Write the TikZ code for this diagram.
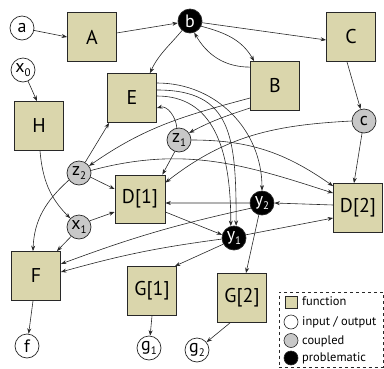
\documentclass[tikz,border=0pt]{standalone}
\usepackage{fontspec}
\setmainfont{PT Sans}
\usetikzlibrary{arrows.meta}
\definecolor{fnfill}{RGB}{218,214,172}
\definecolor{cpfill}{RGB}{200,200,200}
\definecolor{ln}{RGB}{40,40,40}
\newcommand\lsub[1]{\raisebox{-0.4ex}{\fontsize{11}{11}\selectfont #1}}
\begin{document}
\begin{tikzpicture}[x=1bp,y=1bp,
  fn/.style={draw=ln, line width=0.8bp, fill=fnfill, minimum size=49bp, inner sep=0pt, font=\fontsize{20}{20}\selectfont},
  var/.style={circle, draw=ln, line width=0.7bp, minimum size=24bp, inner sep=0pt, font=\fontsize{18}{18}\selectfont},
  io/.style={var, fill=white},
  cp/.style={var, fill=cpfill},
  pr/.style={var, fill=black, text=white},
  conn/.style={draw=ln, line width=0.6bp, -{Stealth[length=5.5bp,width=4bp]}},
  legtxt/.style={anchor=base west, inner sep=0pt, font=\fontsize{12.5}{12.5}\selectfont},
]
\useasboundingbox (0,0) rectangle (384,-369);
% nodes
\node[io] (a) at (22,-28) {a};
\node[fn] (A) at (92,-37) {A};
\node[pr] (b) at (190,-21) {b};
\node[fn] (C) at (351,-37) {C};
\node[io] (x0) at (23,-70) {x\lsub{0}};
\node[fn] (H) at (39,-126) {H};
\node[fn] (E) at (132,-98) {E};
\node[fn] (B) at (275,-86) {B};
\node[cp] (c) at (364,-121) {c};
\node[cp] (z1) at (179,-140) {z\lsub{1}};
\node[cp] (z2) at (79,-173) {z\lsub{2}};
\node[fn, minimum height=48bp, minimum width=50bp] (D1) at (140,-199) {D[1]};
\node[pr] (y2) at (262,-203) {y\lsub{2}};
\node[fn] (D2) at (358,-208) {D[2]};
\node[pr] (y1) at (234,-238) {y\lsub{1}};
\node[cp] (x1) at (79,-227) {x\lsub{1}};
\node[fn] (F) at (36,-276) {F};
\node[fn] (G1) at (152,-291) {G[1]};
\node[fn] (G2) at (242,-298) {G[2]};
\node[io] (f) at (27,-346) {f};
\node[io] (g1) at (149,-348) {g\lsub{1}};
\node[io] (g2) at (197,-350) {g\lsub{2}};
% connectors
\draw[conn] (a) -- (A.west);
\draw[conn] (A) -- (b);
\draw[conn] (b) -- ([yshift=-3bp]C.west);
\draw[conn] (b.230) to[out=230,in=65] ([xshift=-7bp]E.north east);
\draw[conn] (b.-25) to[out=-15,in=120] ([xshift=4bp]B.north west);
\draw[conn] ([yshift=-6bp]B.north west) to[out=180,in=-60] (b.-70);
\draw[conn] (x0) -- ([xshift=-2bp]H.north);
\draw[conn] ([xshift=-4bp]C.south) -- (c);
\draw[conn] (c) -- ([xshift=-4bp]D2.north);
\draw[conn] (c.180) to[out=183,in=38] ([yshift=-8bp]D1.north east);
\draw[conn] ([yshift=-12bp]B.west) to[out=195,in=35] (z2.35);
\draw[conn] ([yshift=-22bp]B.west) to[out=198,in=28] (z1.35);
\draw[conn] (z1.100) to[out=95,in=15] ([yshift=-10bp]E.east);
\draw[conn] (z1.250) -- ([xshift=-3bp]D1.north east);
\draw[conn] (z1.0) to[out=0,in=145] ([yshift=-3bp]D2.north west);
\draw[conn] (z2.60) -- ([xshift=2bp]E.south west);
\draw[conn] (z2.-20) -- ([yshift=10bp]D1.west);
\draw[conn] (z2.12) to[out=15,in=162] ([yshift=-10bp]D2.north west);
\draw[conn] (z2.215) to[out=222,in=88] ([xshift=-3bp]F.north);
\draw[conn] ([xshift=1bp]H.south) to[out=-85,in=135] (x1.135);
\draw[conn] (x1.30) -- ([yshift=-13bp]D1.west);
\draw[conn] (x1.230) -- ([xshift=-4bp]F.north east);
\draw[conn] ([yshift=15bp]E.east) .. controls +(60,0) and +(0,60) .. (y2.north);
\draw[conn] ([yshift=8bp]E.east) .. controls +(75,0) and +(0,90) .. (y1.80);
\draw[conn] ([yshift=2bp]E.east) .. controls +(55,0) and +(0,80) .. (y1.105);
\draw[conn] (y2.west) -- ([yshift=-4bp]D1.east);
\draw[conn] ([yshift=-13bp]D1.east) -- (y1.165);
\draw[conn] ([yshift=3bp]D2.west) -- (y2.east);
\draw[conn] (y1.15) -- ([yshift=-10bp]D2.west);
\draw[conn] (y2.255) -- ([xshift=4bp]G2.north);
\draw[conn] (y1.210) -- ([xshift=-2bp]G1.north east);
\draw[conn] (y2.205) to[bend right=4] ([yshift=12bp]F.east);
\draw[conn] (y1.185) to[bend right=4] ([yshift=4bp]F.east);
\draw[conn] ([xshift=-3bp]F.south) -- (f);
\draw[conn] (G1.south) -- (g1);
\draw[conn] ([xshift=-12bp]G2.south) -- (g2);
% legend
\node[draw=ln, dashed, line width=0.7bp, minimum width=104bp, minimum height=75bp, inner sep=0pt] (leg) at (331,-329.5) {};
\node[draw=ln, fill=fnfill, minimum size=12bp, inner sep=0pt, line width=0.6bp] (lf) at (291,-302) {};
\node[circle, draw=ln, fill=white, minimum size=14bp, inner sep=0pt, line width=0.6bp] (lio) at (291,-322) {};
\node[circle, draw=ln, fill=cpfill, minimum size=14bp, inner sep=0pt, line width=0.6bp] (lcp) at (291,-340.5) {};
\node[circle, draw=ln, fill=black, minimum size=14bp, inner sep=0pt, line width=0.6bp] (lpr) at (291,-358) {};
\node[legtxt] (tf) at (302,-305.5) {function};
\node[legtxt] (tio) at (302,-325.5) {input / output};
\node[legtxt] (tcp) at (302,-344) {coupled};
\node[legtxt] (tpr) at (302,-361.5) {problematic};
\end{tikzpicture}
\end{document}
